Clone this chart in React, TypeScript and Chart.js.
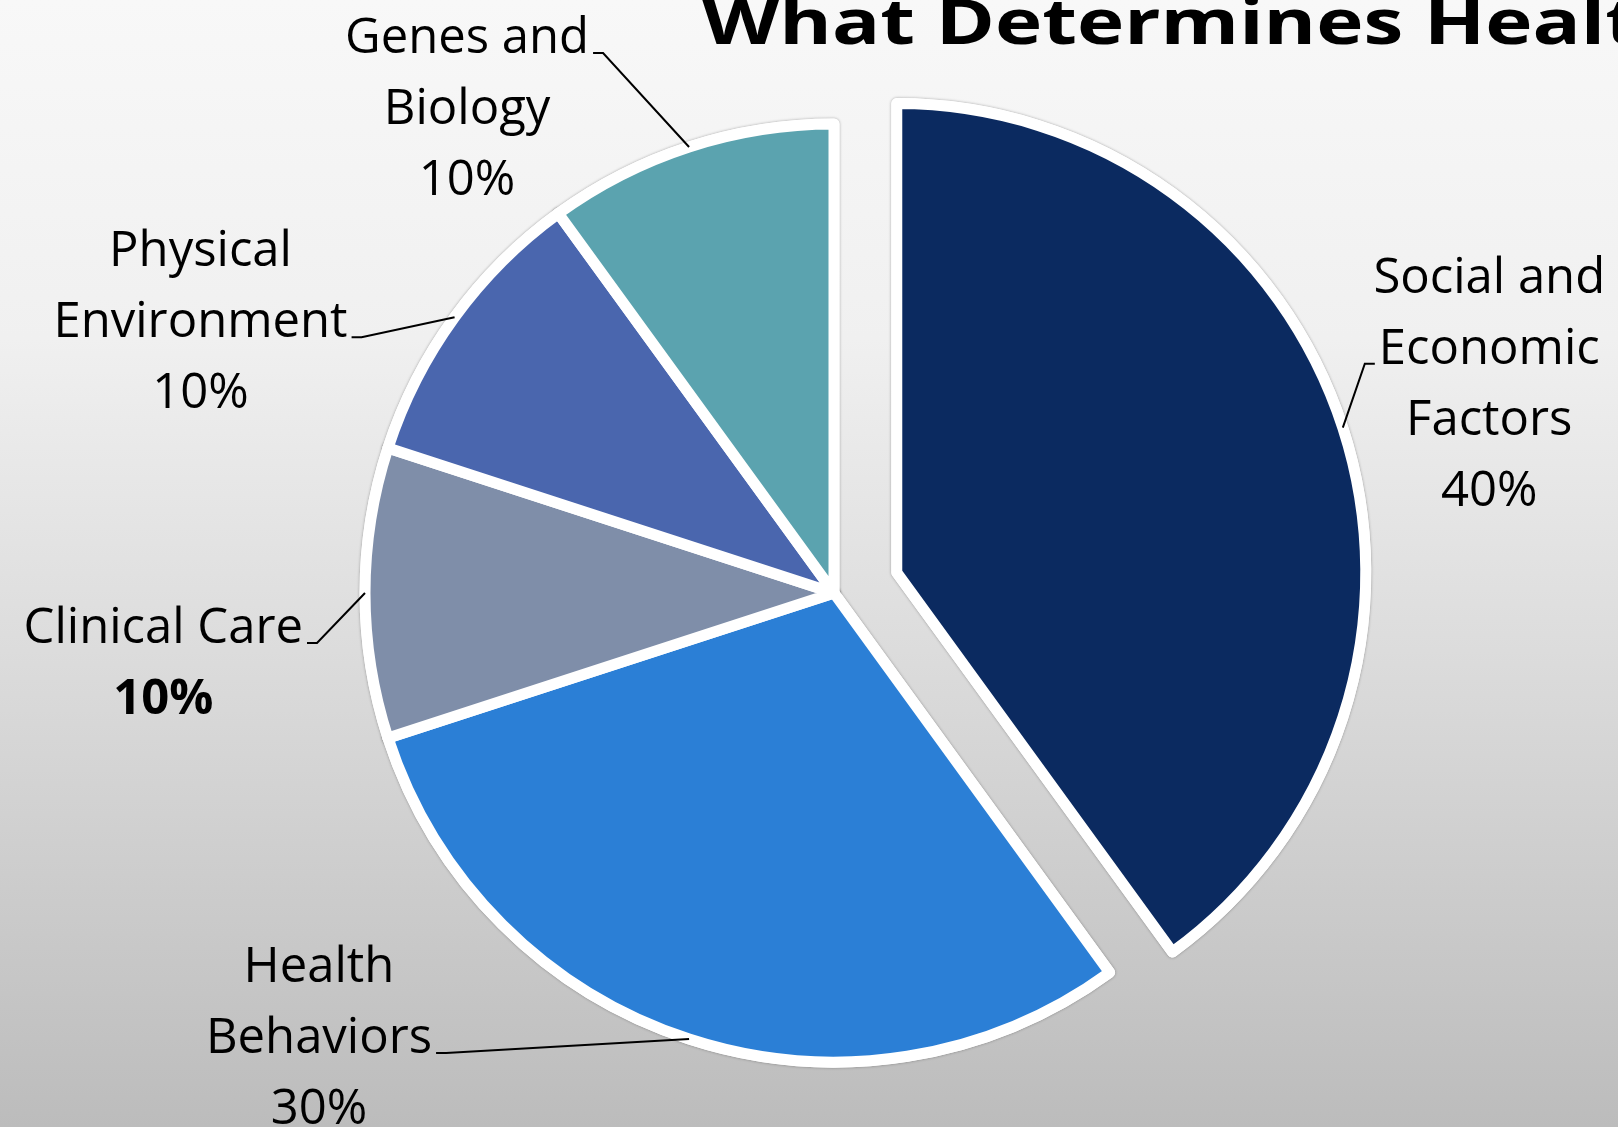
import React, { useEffect, useRef } from "react";
import { Chart, registerables } from "chart.js";

Chart.register(...registerables);

// ---- data ----
const TITLE = "What Determines Health?";
const categories: string[][] = [
  ["Social and", "Economic", "Factors"],
  ["Health", "Behaviors"],
  ["Clinical Care"],
  ["Physical", "Environment"],
  ["Genes and", "Biology"],
];
const values: number[] = [40, 30, 10, 10, 10];
const colors: string[] = ["#0B2A60", "#2B7FD6", "#7F8EA9", "#4A66AE", "#5BA3AF"];
const explode: number[] = [66, 0, 0, 0, 0];
const boldPercent: boolean[] = [false, false, true, false, false];

// ---- label layout (elbow offset from slice edge point) ----
const labelLayout = [
  { dx: 22, dy: -64, side: "right", tickLine: 1 },
  { dx: -243, dy: 14, side: "left", tickLine: 1 },
  { dx: -48, dy: 50, side: "left", tickLine: 0 },
  { dx: -93, dy: 20, side: "left", tickLine: 1 },
  { dx: -86, dy: -94, side: "left", tickLine: 0 },
];

const W = 1618;
const H = 1127;
const FONT_FAMILY = '"Open Sans", "Noto Sans", sans-serif';
const LABEL_SIZE = 49;
const LINE_H = 71;
const TICK = 10;
const GAP = 4;

const explodePlugin = {
  id: "explodeSlices",
  afterDatasetUpdate(chart: any, args: any) {
    const meta = chart.getDatasetMeta(args.index);
    meta.data.forEach((arc: any, i: number) => {
      const d = explode[i] || 0;
      if (!d) return;
      const mid = (arc.startAngle + arc.endAngle) / 2;
      arc.x += Math.cos(mid) * d;
      arc.y += Math.sin(mid) * d;
    });
  },
};

const backgroundPlugin = {
  id: "bgGradient",
  beforeDraw(chart: any) {
    const ctx = chart.ctx;
    const g = ctx.createLinearGradient(0, 0, 0, chart.height);
    g.addColorStop(0, "#f8f8f8");
    g.addColorStop(0.3, "#f0f0f0");
    g.addColorStop(0.55, "#dedede");
    g.addColorStop(1, "#bcbcbc");
    ctx.save();
    ctx.fillStyle = g;
    ctx.fillRect(0, 0, chart.width, chart.height);
    ctx.restore();
  },
};

const shadowPlugin = {
  id: "arcShadow",
  beforeDatasetsDraw(chart: any) {
    const ctx = chart.ctx;
    const meta = chart.getDatasetMeta(0);
    ctx.save();
    ctx.shadowColor = "rgba(0,0,0,0.35)";
    ctx.shadowBlur = 3;
    meta.data.forEach((arc: any) => arc.draw(ctx));
    ctx.restore();
  },
};

const labelPlugin = {
  id: "sliceLabels",
  afterDatasetsDraw(chart: any) {
    const ctx = chart.ctx;
    const meta = chart.getDatasetMeta(0);
    ctx.save();
    meta.data.forEach((arc: any, i: number) => {
      const lay = labelLayout[i];
      const mid = (arc.startAngle + arc.endAngle) / 2;
      const ex = arc.x + Math.cos(mid) * arc.outerRadius;
      const ey = arc.y + Math.sin(mid) * arc.outerRadius;
      const bx = ex + lay.dx;
      const by = ey + lay.dy;
      const dir = lay.side === "left" ? -1 : 1;
      const tx = bx + dir * TICK;
      // leader line
      ctx.strokeStyle = "#000";
      ctx.lineWidth = 2;
      ctx.beginPath();
      ctx.moveTo(ex, ey);
      ctx.lineTo(bx, by);
      ctx.lineTo(tx, by);
      ctx.stroke();
      // text
      const lines = [...categories[i], `${values[i]}%`];
      const fonts = lines.map((_, k) =>
        k === lines.length - 1 && boldPercent[i]
          ? `bold ${LABEL_SIZE}px ${FONT_FAMILY}`
          : `${LABEL_SIZE}px ${FONT_FAMILY}`
      );
      ctx.font = fonts[lay.tickLine];
      const wTick = ctx.measureText(lines[lay.tickLine]).width;
      const cx = tx + dir * (GAP + wTick / 2);
      ctx.fillStyle = "#000";
      ctx.textAlign = "center";
      ctx.textBaseline = "alphabetic";
      lines.forEach((s, k) => {
        ctx.font = fonts[k];
        ctx.fillText(s, cx, by + (k - lay.tickLine) * LINE_H);
      });
    });
    ctx.restore();
  },
  afterDraw(chart: any) {
    const ctx = chart.ctx;
    ctx.save();
    ctx.font = `bold 63px ${FONT_FAMILY}`;
    ctx.fillStyle = "#000";
    ctx.textAlign = "left";
    ctx.textBaseline = "alphabetic";
    ctx.translate(702, 44);
    ctx.scale(1.27, 1);
    ctx.fillText(TITLE, 0, 0);
    ctx.restore();
  },
};

export default function App() {
  const ref = useRef<HTMLCanvasElement | null>(null);
  useEffect(() => {
    document.body.style.margin = "0";
    const canvas = ref.current;
    if (!canvas) return;
    const chart = new Chart(canvas, {
      type: "pie",
      data: {
        labels: categories.map((c) => c.join(" ")),
        datasets: [
          {
            data: values,
            backgroundColor: colors,
            borderColor: "#ffffff",
            borderWidth: 11,
            borderJoinStyle: "round",
            radius: 469,
          } as any,
        ],
      },
      options: {
        responsive: false,
        animation: false,
        events: [],
        rotation: 0,
        layout: { padding: { left: 150, right: 100, top: 100, bottom: 41 } },
        plugins: {
          legend: { display: false },
          tooltip: { enabled: false },
          title: { display: false },
        },
      },
      plugins: [backgroundPlugin, explodePlugin, shadowPlugin, labelPlugin],
    });
    return () => chart.destroy();
  }, []);
  return (
    <div style={{ width: W, height: H, overflow: "hidden" }}>
      <canvas ref={ref} width={W} height={H} style={{ display: "block" }} />
    </div>
  );
}
